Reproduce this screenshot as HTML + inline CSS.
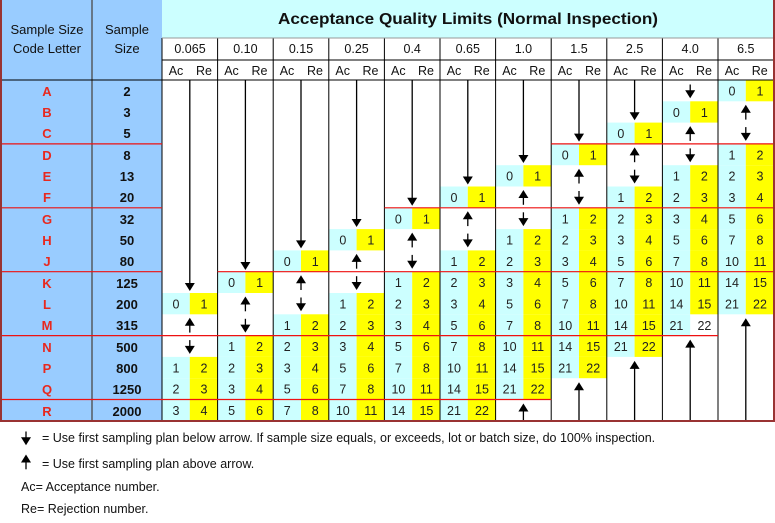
<!DOCTYPE html>
<html><head><meta charset="utf-8"><style>
html,body{margin:0;padding:0;background:#fff;}
svg{display:block;font-family:"Liberation Sans",Arial,sans-serif;}
.n text{font-size:12.5px;text-anchor:middle;fill:#222;}
.h{font-size:12.5px;text-anchor:middle;fill:#111;}
.lt{font-size:13px;font-weight:bold;text-anchor:middle;fill:#e8281e;}
.sz{font-size:13px;font-weight:bold;text-anchor:middle;fill:#111;}
.lg{font-size:12.5px;fill:#111;}
</style></head><body>
<svg width="775" height="523" viewBox="0 0 775 523" xmlns="http://www.w3.org/2000/svg">
<defs>
<g id="b"><rect width="27.8" height="21.3" fill="#ccffff"/><rect x="27.8" width="27.8" height="21.3" fill="#ffff00"/></g>
<g id="up"><path d="M0 3.5 L-5 11.5 L5 11.5Z" fill="#000"/><path d="M0 10 V18.3" stroke="#000" stroke-width="1.3"/></g>
<g id="dn"><path d="M0 18.3 L-5 10.3 L5 10.3Z" fill="#000"/><path d="M0 4.5 V12" stroke="#000" stroke-width="1.3"/></g>
</defs>
<rect x="1" y="0" width="161" height="421" fill="#99ccff"/>
<rect x="162" y="0" width="612" height="38" fill="#ccffff"/>
<line x1="92" y1="0" x2="92" y2="421" stroke="#667788" stroke-width="2"/>
<text class="h" x="47" y="34" style="font-size:13px">Sample Size</text>
<text class="h" x="47" y="53" style="font-size:13px">Code Letter</text>
<text class="h" x="127" y="34" style="font-size:13px">Sample</text>
<text class="h" x="127" y="53" style="font-size:13px">Size</text>
<text x="468" y="24" text-anchor="middle" font-weight="bold" font-size="16" textLength="380" lengthAdjust="spacingAndGlyphs" fill="#111">Acceptance Quality Limits (Normal Inspection)</text>
<g class="h">
<text x="190" y="53">0.065</text><text x="245.4" y="53">0.10</text><text x="301" y="53">0.15</text><text x="356.6" y="53">0.25</text><text x="412.2" y="53">0.4</text><text x="467.8" y="53">0.65</text><text x="523.4" y="53">1.0</text><text x="579" y="53">1.5</text><text x="634.6" y="53">2.5</text><text x="690.2" y="53">4.0</text><text x="745.8" y="53">6.5</text>
</g>
<g class="h">
<text x="176" y="75">Ac</text><text x="204" y="75">Re</text><text x="231.5" y="75">Ac</text><text x="259.5" y="75">Re</text><text x="287" y="75">Ac</text><text x="315" y="75">Re</text><text x="342.7" y="75">Ac</text><text x="370.5" y="75">Re</text><text x="398.3" y="75">Ac</text><text x="426" y="75">Re</text><text x="454" y="75">Ac</text><text x="481.7" y="75">Re</text><text x="509.5" y="75">Ac</text><text x="537.3" y="75">Re</text><text x="565" y="75">Ac</text><text x="593" y="75">Re</text><text x="620.7" y="75">Ac</text><text x="648.5" y="75">Re</text><text x="676.3" y="75">Ac</text><text x="704" y="75">Re</text><text x="732" y="75">Ac</text><text x="759.7" y="75">Re</text>
</g>
<g class="lt">
<text x="47" y="96">A</text><text x="47" y="117">B</text><text x="47" y="138">C</text><text x="47" y="160">D</text><text x="47" y="181">E</text><text x="47" y="202">F</text><text x="47" y="224">G</text><text x="47" y="245">H</text><text x="47" y="266">J</text><text x="47" y="288">K</text><text x="47" y="309">L</text><text x="47" y="330">M</text><text x="47" y="352">N</text><text x="47" y="373">P</text><text x="47" y="394">Q</text><text x="47" y="416">R</text>
</g>
<g class="sz">
<text x="127" y="96">2</text><text x="127" y="117">3</text><text x="127" y="138">5</text><text x="127" y="160">8</text><text x="127" y="181">13</text><text x="127" y="202">20</text><text x="127" y="224">32</text><text x="127" y="245">50</text><text x="127" y="266">80</text><text x="127" y="288">125</text><text x="127" y="309">200</text><text x="127" y="330">315</text><text x="127" y="352">500</text><text x="127" y="373">800</text><text x="127" y="394">1250</text><text x="127" y="416">2000</text>
</g>
<g class="n">
<g transform="translate(162 293)"><use href="#b"/><text x="14" y="15.5">0</text><text x="42" y="15.5">1</text></g>
<g transform="translate(162 356.9)"><use href="#b"/><text x="14" y="15.5">1</text><text x="42" y="15.5">2</text></g>
<g transform="translate(162 378.2)"><use href="#b"/><text x="14" y="15.5">2</text><text x="42" y="15.5">3</text></g>
<g transform="translate(162 399.5)"><use href="#b"/><text x="14" y="15.5">3</text><text x="42" y="15.5">4</text></g>
<g transform="translate(217.6 271.7)"><use href="#b"/><text x="14" y="15.5">0</text><text x="42" y="15.5">1</text></g>
<g transform="translate(217.6 335.6)"><use href="#b"/><text x="14" y="15.5">1</text><text x="42" y="15.5">2</text></g>
<g transform="translate(217.6 356.9)"><use href="#b"/><text x="14" y="15.5">2</text><text x="42" y="15.5">3</text></g>
<g transform="translate(217.6 378.2)"><use href="#b"/><text x="14" y="15.5">3</text><text x="42" y="15.5">4</text></g>
<g transform="translate(217.6 399.5)"><use href="#b"/><text x="14" y="15.5">5</text><text x="42" y="15.5">6</text></g>
<g transform="translate(273.2 250.4)"><use href="#b"/><text x="14" y="15.5">0</text><text x="42" y="15.5">1</text></g>
<g transform="translate(273.2 314.3)"><use href="#b"/><text x="14" y="15.5">1</text><text x="42" y="15.5">2</text></g>
<g transform="translate(273.2 335.6)"><use href="#b"/><text x="14" y="15.5">2</text><text x="42" y="15.5">3</text></g>
<g transform="translate(273.2 356.9)"><use href="#b"/><text x="14" y="15.5">3</text><text x="42" y="15.5">4</text></g>
<g transform="translate(273.2 378.2)"><use href="#b"/><text x="14" y="15.5">5</text><text x="42" y="15.5">6</text></g>
<g transform="translate(273.2 399.5)"><use href="#b"/><text x="14" y="15.5">7</text><text x="42" y="15.5">8</text></g>
<g transform="translate(328.8 229.1)"><use href="#b"/><text x="14" y="15.5">0</text><text x="42" y="15.5">1</text></g>
<g transform="translate(328.8 293)"><use href="#b"/><text x="14" y="15.5">1</text><text x="42" y="15.5">2</text></g>
<g transform="translate(328.8 314.3)"><use href="#b"/><text x="14" y="15.5">2</text><text x="42" y="15.5">3</text></g>
<g transform="translate(328.8 335.6)"><use href="#b"/><text x="14" y="15.5">3</text><text x="42" y="15.5">4</text></g>
<g transform="translate(328.8 356.9)"><use href="#b"/><text x="14" y="15.5">5</text><text x="42" y="15.5">6</text></g>
<g transform="translate(328.8 378.2)"><use href="#b"/><text x="14" y="15.5">7</text><text x="42" y="15.5">8</text></g>
<g transform="translate(328.8 399.5)"><use href="#b"/><text x="14" y="15.5">10</text><text x="42" y="15.5">11</text></g>
<g transform="translate(384.4 207.8)"><use href="#b"/><text x="14" y="15.5">0</text><text x="42" y="15.5">1</text></g>
<g transform="translate(384.4 271.7)"><use href="#b"/><text x="14" y="15.5">1</text><text x="42" y="15.5">2</text></g>
<g transform="translate(384.4 293)"><use href="#b"/><text x="14" y="15.5">2</text><text x="42" y="15.5">3</text></g>
<g transform="translate(384.4 314.3)"><use href="#b"/><text x="14" y="15.5">3</text><text x="42" y="15.5">4</text></g>
<g transform="translate(384.4 335.6)"><use href="#b"/><text x="14" y="15.5">5</text><text x="42" y="15.5">6</text></g>
<g transform="translate(384.4 356.9)"><use href="#b"/><text x="14" y="15.5">7</text><text x="42" y="15.5">8</text></g>
<g transform="translate(384.4 378.2)"><use href="#b"/><text x="14" y="15.5">10</text><text x="42" y="15.5">11</text></g>
<g transform="translate(384.4 399.5)"><use href="#b"/><text x="14" y="15.5">14</text><text x="42" y="15.5">15</text></g>
<g transform="translate(440 186.5)"><use href="#b"/><text x="14" y="15.5">0</text><text x="42" y="15.5">1</text></g>
<g transform="translate(440 250.4)"><use href="#b"/><text x="14" y="15.5">1</text><text x="42" y="15.5">2</text></g>
<g transform="translate(440 271.7)"><use href="#b"/><text x="14" y="15.5">2</text><text x="42" y="15.5">3</text></g>
<g transform="translate(440 293)"><use href="#b"/><text x="14" y="15.5">3</text><text x="42" y="15.5">4</text></g>
<g transform="translate(440 314.3)"><use href="#b"/><text x="14" y="15.5">5</text><text x="42" y="15.5">6</text></g>
<g transform="translate(440 335.6)"><use href="#b"/><text x="14" y="15.5">7</text><text x="42" y="15.5">8</text></g>
<g transform="translate(440 356.9)"><use href="#b"/><text x="14" y="15.5">10</text><text x="42" y="15.5">11</text></g>
<g transform="translate(440 378.2)"><use href="#b"/><text x="14" y="15.5">14</text><text x="42" y="15.5">15</text></g>
<g transform="translate(440 399.5)"><use href="#b"/><text x="14" y="15.5">21</text><text x="42" y="15.5">22</text></g>
<g transform="translate(495.6 165.2)"><use href="#b"/><text x="14" y="15.5">0</text><text x="42" y="15.5">1</text></g>
<g transform="translate(495.6 229.1)"><use href="#b"/><text x="14" y="15.5">1</text><text x="42" y="15.5">2</text></g>
<g transform="translate(495.6 250.4)"><use href="#b"/><text x="14" y="15.5">2</text><text x="42" y="15.5">3</text></g>
<g transform="translate(495.6 271.7)"><use href="#b"/><text x="14" y="15.5">3</text><text x="42" y="15.5">4</text></g>
<g transform="translate(495.6 293)"><use href="#b"/><text x="14" y="15.5">5</text><text x="42" y="15.5">6</text></g>
<g transform="translate(495.6 314.3)"><use href="#b"/><text x="14" y="15.5">7</text><text x="42" y="15.5">8</text></g>
<g transform="translate(495.6 335.6)"><use href="#b"/><text x="14" y="15.5">10</text><text x="42" y="15.5">11</text></g>
<g transform="translate(495.6 356.9)"><use href="#b"/><text x="14" y="15.5">14</text><text x="42" y="15.5">15</text></g>
<g transform="translate(495.6 378.2)"><use href="#b"/><text x="14" y="15.5">21</text><text x="42" y="15.5">22</text></g>
<g transform="translate(551.2 143.9)"><use href="#b"/><text x="14" y="15.5">0</text><text x="42" y="15.5">1</text></g>
<g transform="translate(551.2 207.8)"><use href="#b"/><text x="14" y="15.5">1</text><text x="42" y="15.5">2</text></g>
<g transform="translate(551.2 229.1)"><use href="#b"/><text x="14" y="15.5">2</text><text x="42" y="15.5">3</text></g>
<g transform="translate(551.2 250.4)"><use href="#b"/><text x="14" y="15.5">3</text><text x="42" y="15.5">4</text></g>
<g transform="translate(551.2 271.7)"><use href="#b"/><text x="14" y="15.5">5</text><text x="42" y="15.5">6</text></g>
<g transform="translate(551.2 293)"><use href="#b"/><text x="14" y="15.5">7</text><text x="42" y="15.5">8</text></g>
<g transform="translate(551.2 314.3)"><use href="#b"/><text x="14" y="15.5">10</text><text x="42" y="15.5">11</text></g>
<g transform="translate(551.2 335.6)"><use href="#b"/><text x="14" y="15.5">14</text><text x="42" y="15.5">15</text></g>
<g transform="translate(551.2 356.9)"><use href="#b"/><text x="14" y="15.5">21</text><text x="42" y="15.5">22</text></g>
<g transform="translate(606.8 122.6)"><use href="#b"/><text x="14" y="15.5">0</text><text x="42" y="15.5">1</text></g>
<g transform="translate(606.8 186.5)"><use href="#b"/><text x="14" y="15.5">1</text><text x="42" y="15.5">2</text></g>
<g transform="translate(606.8 207.8)"><use href="#b"/><text x="14" y="15.5">2</text><text x="42" y="15.5">3</text></g>
<g transform="translate(606.8 229.1)"><use href="#b"/><text x="14" y="15.5">3</text><text x="42" y="15.5">4</text></g>
<g transform="translate(606.8 250.4)"><use href="#b"/><text x="14" y="15.5">5</text><text x="42" y="15.5">6</text></g>
<g transform="translate(606.8 271.7)"><use href="#b"/><text x="14" y="15.5">7</text><text x="42" y="15.5">8</text></g>
<g transform="translate(606.8 293)"><use href="#b"/><text x="14" y="15.5">10</text><text x="42" y="15.5">11</text></g>
<g transform="translate(606.8 314.3)"><use href="#b"/><text x="14" y="15.5">14</text><text x="42" y="15.5">15</text></g>
<g transform="translate(606.8 335.6)"><use href="#b"/><text x="14" y="15.5">21</text><text x="42" y="15.5">22</text></g>
<g transform="translate(662.4 101.3)"><use href="#b"/><text x="14" y="15.5">0</text><text x="42" y="15.5">1</text></g>
<g transform="translate(662.4 165.2)"><use href="#b"/><text x="14" y="15.5">1</text><text x="42" y="15.5">2</text></g>
<g transform="translate(662.4 186.5)"><use href="#b"/><text x="14" y="15.5">2</text><text x="42" y="15.5">3</text></g>
<g transform="translate(662.4 207.8)"><use href="#b"/><text x="14" y="15.5">3</text><text x="42" y="15.5">4</text></g>
<g transform="translate(662.4 229.1)"><use href="#b"/><text x="14" y="15.5">5</text><text x="42" y="15.5">6</text></g>
<g transform="translate(662.4 250.4)"><use href="#b"/><text x="14" y="15.5">7</text><text x="42" y="15.5">8</text></g>
<g transform="translate(662.4 271.7)"><use href="#b"/><text x="14" y="15.5">10</text><text x="42" y="15.5">11</text></g>
<g transform="translate(662.4 293)"><use href="#b"/><text x="14" y="15.5">14</text><text x="42" y="15.5">15</text></g>
<g transform="translate(662.4 314.3)"><rect width="27.8" height="21.3" fill="#ccffff"/><text x="14" y="15.5">21</text><text x="42" y="15.5">22</text></g>
<g transform="translate(718 80)"><use href="#b"/><text x="14" y="15.5">0</text><text x="42" y="15.5">1</text></g>
<g transform="translate(718 143.9)"><use href="#b"/><text x="14" y="15.5">1</text><text x="42" y="15.5">2</text></g>
<g transform="translate(718 165.2)"><use href="#b"/><text x="14" y="15.5">2</text><text x="42" y="15.5">3</text></g>
<g transform="translate(718 186.5)"><use href="#b"/><text x="14" y="15.5">3</text><text x="42" y="15.5">4</text></g>
<g transform="translate(718 207.8)"><use href="#b"/><text x="14" y="15.5">5</text><text x="42" y="15.5">6</text></g>
<g transform="translate(718 229.1)"><use href="#b"/><text x="14" y="15.5">7</text><text x="42" y="15.5">8</text></g>
<g transform="translate(718 250.4)"><use href="#b"/><text x="14" y="15.5">10</text><text x="42" y="15.5">11</text></g>
<g transform="translate(718 271.7)"><use href="#b"/><text x="14" y="15.5">14</text><text x="42" y="15.5">15</text></g>
<g transform="translate(718 293)"><use href="#b"/><text x="14" y="15.5">21</text><text x="42" y="15.5">22</text></g>
</g>
<g stroke="#000" stroke-width="1">
<line x1="162" y1="38" x2="162" y2="421"/>
<line x1="217.6" y1="38" x2="217.6" y2="421"/>
<line x1="273.2" y1="38" x2="273.2" y2="421"/>
<line x1="328.8" y1="38" x2="328.8" y2="421"/>
<line x1="384.4" y1="38" x2="384.4" y2="421"/>
<line x1="440" y1="38" x2="440" y2="421"/>
<line x1="495.6" y1="38" x2="495.6" y2="421"/>
<line x1="551.2" y1="38" x2="551.2" y2="421"/>
<line x1="606.8" y1="38" x2="606.8" y2="421"/>
<line x1="662.4" y1="38" x2="662.4" y2="421"/>
<line x1="718" y1="38" x2="718" y2="421"/>
<line x1="162" y1="60" x2="774" y2="60"/>
<line x1="1" y1="80" x2="774" y2="80"/>
</g>
<line x1="162" y1="38" x2="774" y2="38" stroke="#999" stroke-width="1"/>
<g stroke="#ee1111" stroke-width="1.2">
<line x1="2" y1="143.9" x2="162" y2="143.9"/><line x1="551.2" y1="143.9" x2="774" y2="143.9"/>
<line x1="2" y1="207.8" x2="162" y2="207.8"/><line x1="384.4" y1="207.8" x2="774" y2="207.8"/>
<line x1="2" y1="271.7" x2="162" y2="271.7"/><line x1="217.6" y1="271.7" x2="774" y2="271.7"/>
<line x1="2" y1="335.6" x2="718" y2="335.6"/>
<line x1="2" y1="399.5" x2="551.2" y2="399.5"/>
</g>
<g stroke="#000" stroke-width="1.3">
<line x1="189.8" y1="80" x2="189.8" y2="285"/>
<line x1="245.4" y1="80" x2="245.4" y2="264"/>
<line x1="301" y1="80" x2="301" y2="242.4"/>
<line x1="356.6" y1="80" x2="356.6" y2="221"/>
<line x1="412.2" y1="80" x2="412.2" y2="199.8"/>
<line x1="467.8" y1="80" x2="467.8" y2="178.5"/>
<line x1="523.4" y1="80" x2="523.4" y2="157"/>
<line x1="579" y1="80" x2="579" y2="135.6"/>
<line x1="634.6" y1="80" x2="634.6" y2="114.3"/>
<line x1="523.4" y1="409" x2="523.4" y2="421"/>
<line x1="579" y1="388" x2="579" y2="421"/>
<line x1="634.6" y1="366" x2="634.6" y2="421"/>
<line x1="690.2" y1="345" x2="690.2" y2="421"/>
<line x1="745.8" y1="324" x2="745.8" y2="421"/>
</g>
<g fill="#000">
<path d="M189.8 291 l-5 -8 h10z"/>
<path d="M245.4 270 l-5 -8 h10z"/>
<path d="M301 248.4 l-5 -8 h10z"/>
<path d="M356.6 227 l-5 -8 h10z"/>
<path d="M412.2 205.8 l-5 -8 h10z"/>
<path d="M467.8 184.5 l-5 -8 h10z"/>
<path d="M523.4 163 l-5 -8 h10z"/>
<path d="M579 141.6 l-5 -8 h10z"/>
<path d="M634.6 120.3 l-5 -8 h10z"/>
<path d="M523.4 403.5 l-5 8 h10z"/>
<path d="M579 382.2 l-5 8 h10z"/>
<path d="M634.6 360.9 l-5 8 h10z"/>
<path d="M690.2 339.6 l-5 8 h10z"/>
<path d="M745.8 318.3 l-5 8 h10z"/>
</g>
<use href="#up" x="189.8" y="314.3"/><use href="#dn" x="189.8" y="335.6"/>
<use href="#up" x="245.4" y="293"/><use href="#dn" x="245.4" y="314.3"/>
<use href="#up" x="301" y="271.7"/><use href="#dn" x="301" y="293"/>
<use href="#up" x="356.6" y="250.4"/><use href="#dn" x="356.6" y="271.7"/>
<use href="#up" x="412.2" y="229.1"/><use href="#dn" x="412.2" y="250.4"/>
<use href="#up" x="467.8" y="207.8"/><use href="#dn" x="467.8" y="229.1"/>
<use href="#up" x="523.4" y="186.5"/><use href="#dn" x="523.4" y="207.8"/>
<use href="#up" x="579" y="165.2"/><use href="#dn" x="579" y="186.5"/>
<use href="#up" x="634.6" y="143.9"/><use href="#dn" x="634.6" y="165.2"/>
<use href="#dn" x="690.2" y="80"/><use href="#up" x="690.2" y="122.6"/><use href="#dn" x="690.2" y="143.9"/>
<use href="#up" x="745.8" y="101.3"/><use href="#dn" x="745.8" y="122.6"/>
<path d="M1 0 V421 H774 V0" fill="none" stroke="#993333" stroke-width="2"/>
<use href="#dn" x="26" y="427"/>
<text class="lg" x="42" y="442">= Use first sampling plan below arrow. If sample size equals, or exceeds, lot or batch size, do 100% inspection.</text>
<use href="#up" x="26" y="451"/>
<text class="lg" x="42" y="468">= Use first sampling plan above arrow.</text>
<text class="lg" x="21" y="491">Ac= Acceptance number.</text>
<text class="lg" x="21" y="513">Re= Rejection number.</text>
</svg>
</body></html>
